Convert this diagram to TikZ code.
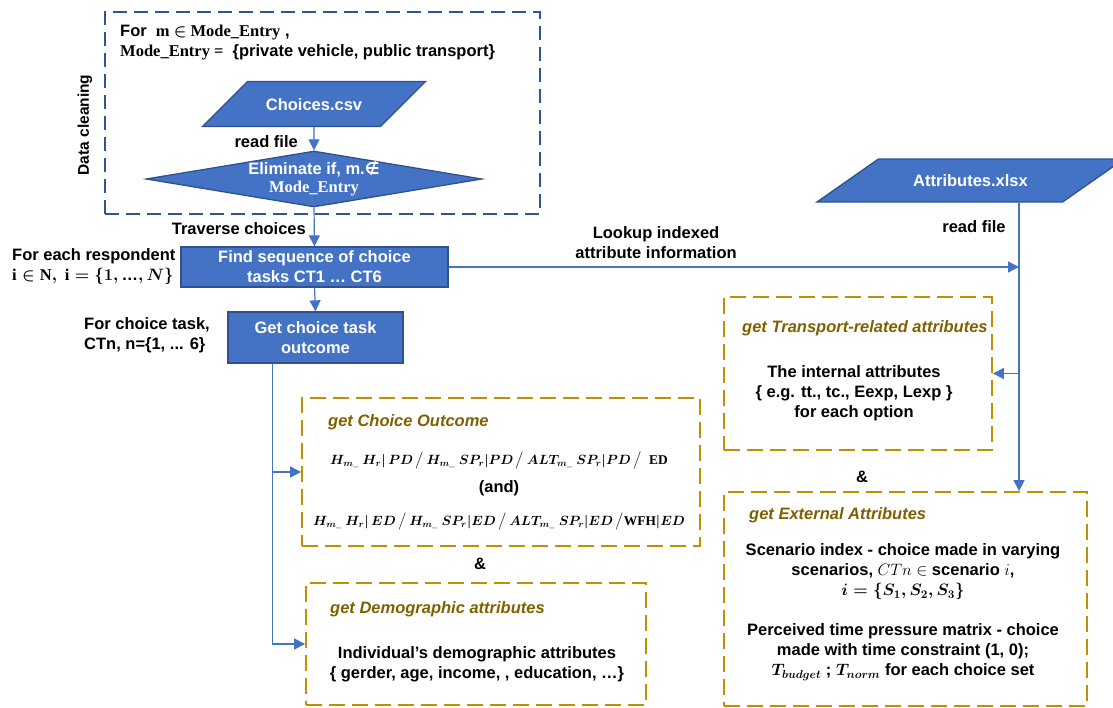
\RequirePackage{fix-cm}
\documentclass[tikz,border=0pt]{standalone}
\usepackage{fontspec}
\setmainfont{Liberation Sans}
\newfontfamily\cambriafont{Liberation Serif}
\newfontfamily\symbolfont{DejaVu Sans}
\usepackage{amsmath}
\usepackage{bm}
\usetikzlibrary{shapes.geometric,arrows.meta}

\definecolor{boxblue}{HTML}{4472C4}
\definecolor{boxedge}{HTML}{2F528F}
\definecolor{frameblue}{HTML}{2F5597}
\definecolor{framegold}{HTML}{BF9000}
\definecolor{titlegold}{HTML}{7F6000}

\newcommand{\bodyfont}{\fontsize{16.5}{20}\selectfont\bfseries}
\newcommand{\mathfont}{\fontsize{13.4}{16}\selectfont}
\newcommand{\upr}[1]{\text{\cambriafont #1}}

\tikzset{
  every node/.style={font=\bodyfont, inner sep=0pt},
  process/.style={rectangle, fill=boxblue, draw=boxedge, line width=1.3pt, text=white, align=center},
  datafile/.style={trapezium, trapezium stretches body, fill=boxblue, draw=boxedge, line width=1.3pt, text=white},
  decision/.style={diamond, fill=boxblue, draw=boxedge, line width=1.3pt},
  blueframe/.style={draw=frameblue, line width=1.8pt, dash pattern=on 14pt off 7pt},
  goldframe/.style={draw=framegold, line width=1.8pt, dash pattern=on 16pt off 7pt},
  boxtitle/.style={anchor=west, text=titlegold, font=\bodyfont\itshape},
  note/.style={anchor=west, align=left},
  flow/.style={draw=boxblue, line width=1.2pt, -{Triangle[length=11pt,width=11pt]}},
}

\begin{document}
\begin{tikzpicture}[x=1pt,y=-1pt]
  \useasboundingbox (0,0) rectangle (1113,707);

  % data cleaning stage
  \node (cleanframe) [blueframe, minimum width=435, minimum height=202] at (322.5,113) {};
  \node (cleanlabel) [rotate=90, font=\fontsize{15.5}{18}\selectfont\bfseries] at (85,125) {Data cleaning};
  \node (modeset) [note] at (120,43) {For\ \ {\cambriafont m $\bm{\in}$ Mode\_Entry} ,\\{\cambriafont Mode\_Entry =}\ \ \{private vehicle, public transport\}};
  \node (choices) [datafile, trapezium left angle=45, trapezium right angle=135, text height=28.5, text depth=16.5, minimum width=223] at (314,104) {Choices.csv};
  \node (elim) [decision, minimum width=336, minimum height=56] at (314,179) {};
  \node (elimtext) [text=white, align=center, font=\fontsize{16.5}{18}\selectfont\bfseries] at (elim) {Eliminate if, m.{\symbolfont ∉}\\{\cambriafont Mode\_Entry}};
  \node (readchoices) [anchor=east] at (298,142) {read file};
  \node (traverse) [anchor=east] at (306,229) {Traverse choices};

  % respondents and choice tasks
  \node (find) [process, minimum width=267, minimum height=40] at (314.5,267) {Find sequence of choice\\tasks CT1 … CT6};
  \node (outcome) [process, minimum width=175, minimum height=51] at (315.5,337.5) {Get choice task\\outcome};
  \node (respondent) [note] at (12,267) {For each respondent\\{\boldmath$\upr{i}\in\upr{N},\ \upr{i}=\{1,\text{…},N\}$}};
  \node (choicetask) [note] at (84,335) {For choice task,\\CTn, n=\{1, ... 6\}};
  \node (lookup) [align=center] at (656,243) {Lookup indexed\\attribute information};

  % attribute file
  \node (attrs) [datafile, trapezium left angle=35, trapezium right angle=145, text height=27.5, text depth=15.5, minimum width=307] at (970.5,180.5) {Attributes.xlsx};
  \node (readattrs) at (974,227) {read file};
  \coordinate (rail) at (1019,0);

  \node (transport) [goldframe, minimum width=268, minimum height=153] at (858,373.5) {};
  \node (transporttitle) [boxtitle] at (742,328) {get Transport-related attributes};
  \node (transportbody) [align=center] at (854,393) {The internal attributes\\\{ e.g. tt., tc., Eexp, Lexp \}\\for each option};
  \node (and1) at (862,477) {\&};

  \node (external) [goldframe, minimum width=363, minimum height=214] at (905.5,599) {};
  \node (externaltitle) [boxtitle] at (749,515) {get External Attributes};
  \node (externalbody) [align=center] at (903,612) {Scenario index - choice made in varying\\scenarios, $CTn\in$ scenario $i$,\\{\boldmath$i=\{S_1,S_2,S_3\}$}\\[20pt]Perceived time pressure matrix - choice\\made with time constraint (1, 0);\\{\boldmath$T_{budget}$} ; {\boldmath$T_{norm}$} for each choice set};

  % outcome and demographics
  \node (choiceout) [goldframe, minimum width=398, minimum height=148] at (501,472) {};
  \node (choicetitle) [boxtitle] at (328,422) {get Choice Outcome};
  \node (choicebody) [align=center] at (499,491.5) {{\mathfont\boldmath$H_{m\_}\ H_r|\,PD\,\big/\,H_{m\_}\ SP_r|PD\,\big/\,ALT_{m\_}\ SP_r|PD\,\big/\ \ \upr{ED}$}\\[8pt](and)\\[13pt]{\mathfont\boldmath$H_{m\_}\ H_r|\,ED\,\big/\,H_{m\_}\ SP_r|ED\,\big/\,ALT_{m\_}\ SP_r|ED\,\big/\upr{WFH}|ED$}};
  \node (and2) at (480,564) {\&};

  \node (demog) [goldframe, minimum width=340, minimum height=122] at (476,644) {};
  \node (demogtitle) [boxtitle] at (330,609) {get Demographic attributes};
  \node (demogbody) [align=center] at (477,664.5) {Individual’s demographic attributes\\\{ gerder, age, income, , education, …\}};

  \coordinate (tap) at ([xshift=-43]outcome.south);

  \draw [flow] (choices.south) -- (elim.north);
  \draw [flow] (elim.south) -- (find.north);
  \draw [flow] (find.south) -- (outcome.north);
  \draw [flow] (find.east) -- (find.east -| rail);
  \draw [flow] (attrs.south -| rail) -- (external.north -| rail);
  \draw [flow] (rail |- transport.east) -- (transport.east);
  \draw [flow] (tap) |- (choiceout.west);
  \draw [flow] (tap) |- (demog.west);
\end{tikzpicture}
\end{document}
